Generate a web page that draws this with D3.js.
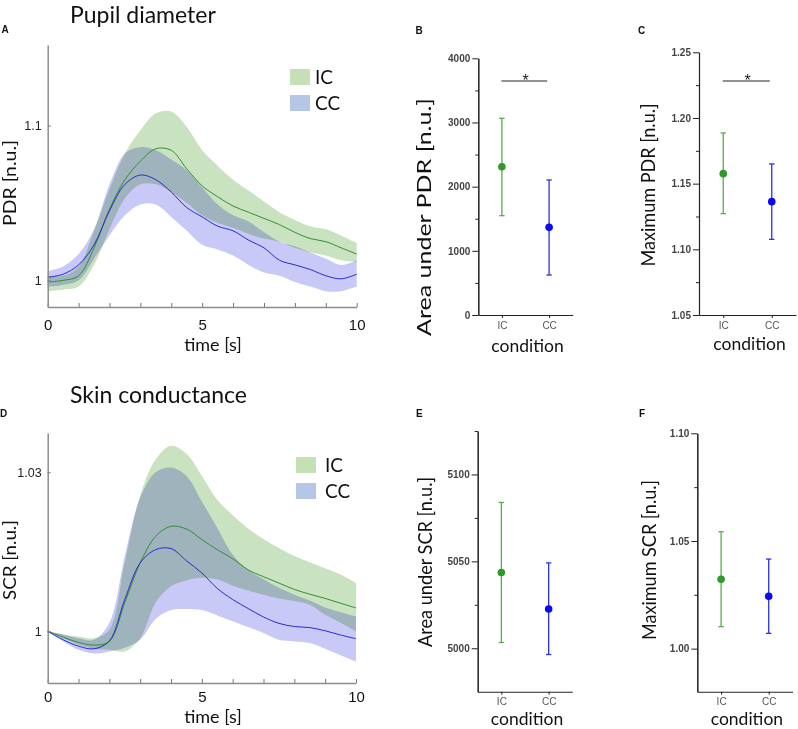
<!DOCTYPE html>
<html>
<head>
<meta charset="utf-8">
<script src="https://cdn.jsdelivr.net/npm/d3@7"></script>
<style>
  body { margin: 0; background: #fff; }
  svg { display: block; font-family: Lato, "Open Sans", sans-serif; }
  .band { mix-blend-mode: multiply; }
  .sum-axis text { font-family: "Liberation Sans", Arial, sans-serif; }
</style>
</head>
<body>
<div id="chart"></div>
<script>

// ---- time course data (normalised units) ----
const timeSec = [0, 0.5, 1, 1.5, 2, 2.5, 3, 3.5, 4, 4.5, 5, 5.5, 6, 6.5, 7, 7.5, 8, 8.5, 9, 9.5, 10];

// pupil dilation response
const pdrIcMean  = [0.999, 1.000, 1.003, 1.021, 1.046, 1.065, 1.077, 1.085, 1.084, 1.072, 1.061, 1.054, 1.048, 1.044, 1.040, 1.036, 1.031, 1.027, 1.025, 1.021, 1.017];
const pdrIcUpper = [1.003, 1.003, 1.009, 1.032, 1.059, 1.082, 1.097, 1.108, 1.109, 1.099, 1.084, 1.074, 1.065, 1.058, 1.051, 1.044, 1.039, 1.035, 1.033, 1.029, 1.024];
const pdrIcLower = [0.993, 0.994, 0.996, 1.010, 1.033, 1.053, 1.062, 1.062, 1.057, 1.050, 1.042, 1.037, 1.034, 1.030, 1.027, 1.025, 1.021, 1.018, 1.016, 1.013, 1.012];
const pdrCcMean  = [1.002, 1.004, 1.010, 1.023, 1.045, 1.062, 1.068, 1.065, 1.057, 1.047, 1.041, 1.035, 1.032, 1.026, 1.021, 1.013, 1.010, 1.007, 1.003, 1.001, 1.004];
const pdrCcUpper = [1.006, 1.009, 1.017, 1.033, 1.062, 1.082, 1.086, 1.084, 1.078, 1.071, 1.060, 1.049, 1.042, 1.038, 1.031, 1.025, 1.022, 1.018, 1.014, 1.010, 1.013];
const pdrCcLower = [0.996, 0.997, 1.000, 1.014, 1.029, 1.042, 1.049, 1.049, 1.041, 1.032, 1.023, 1.020, 1.016, 1.010, 1.005, 1.003, 0.999, 0.996, 0.993, 0.993, 0.996];

// skin conductance response
const scrIcMean  = [1.000, 0.9989, 0.9979, 0.9974, 0.9981, 1.0054, 1.0129, 1.0179, 1.0198, 1.0193, 1.0173, 1.0154, 1.0137, 1.0116, 1.0103, 1.0091, 1.0079, 1.0070, 1.0062, 1.0053, 1.0044];
const scrIcUpper = [1.000, 0.9994, 0.9990, 0.9987, 1.0003, 1.0130, 1.0256, 1.0324, 1.0350, 1.0335, 1.0293, 1.0248, 1.0219, 1.0194, 1.0174, 1.0157, 1.0142, 1.0130, 1.0119, 1.0107, 1.0091];
const scrIcLower = [1.000, 0.9987, 0.9975, 0.9967, 0.9965, 0.9962, 0.9987, 1.0054, 1.0085, 1.0096, 1.0101, 1.0098, 1.0086, 1.0077, 1.0069, 1.0062, 1.0057, 1.0050, 1.0031, 1.0016, 1.0000];
const scrCcMean  = [1.000, 0.9984, 0.9972, 0.9967, 0.9982, 1.0060, 1.0129, 1.0154, 1.0156, 1.0133, 1.0110, 1.0081, 1.0060, 1.0043, 1.0027, 1.0015, 1.0009, 1.0007, 1.0001, 0.9993, 0.9986];
const scrCcUpper = [1.000, 0.9994, 0.9987, 0.9984, 1.0016, 1.0142, 1.0252, 1.0300, 1.0309, 1.0293, 1.0245, 1.0195, 1.0145, 1.0116, 1.0098, 1.0082, 1.0069, 1.0058, 1.0045, 1.0036, 1.0028];
const scrCcLower = [1.000, 0.9981, 0.9965, 0.9958, 0.9962, 0.9969, 0.9984, 1.0023, 1.0040, 1.0042, 1.0040, 1.0030, 1.0019, 1.0008, 0.9997, 0.9984, 0.9981, 0.9978, 0.9967, 0.9955, 0.9943];

// ---- summary data (mean, lower, upper) ----
const conditions = ["IC", "CC"];
const pdrAreaMean = [2310, 1366];
const pdrAreaLow  = [1548, 623];
const pdrAreaHigh = [3065, 2104];

const pdrMaxMean = [1.1576, 1.1363];
const pdrMaxLow  = [1.1272, 1.1076];
const pdrMaxHigh = [1.1886, 1.1650];

const scrAreaMean = [5043.6, 5022.6];
const scrAreaLow  = [5003.3, 4996.4];
const scrAreaHigh = [5083.9, 5049.1];

const scrMaxMean = [1.0322, 1.0243];
const scrMaxLow  = [1.0102, 1.0071];
const scrMaxHigh = [1.0543, 1.0416];

const legendLabels = ["IC", "CC"];

// colours
const bandGreen = "#c9e3c1", bandBlue = "#c9c9f7";
const lineGreen = "#2f8f35", lineBlue = "#2a2ad0";
const legendGreen = "#c5e0b4", legendBlue = "#b4c7e7";
const dotGreen = "#2f9a2a", dotBlue = "#0b0bf2";
const barGreen = "#58ad4c", barBlue = "#3030ee";

const svg = d3.select("#chart").append("svg")
    .attr("width", 798)
    .attr("height", 729);

svg.append("rect").attr("width", 798).attr("height", 729).attr("fill", "#fff");

function panelLetter(txt, x, y) {
    svg.append("text")
        .attr("x", x).attr("y", y)
        .style("font-family", "'Liberation Sans', Arial, sans-serif")
        .style("font-weight", "bold")
        .style("font-size", "10px")
        .attr("fill", "#111")
        .text(txt);
}

/* time course panel (A, D) */
function drawTimePanel(p) {
    let x = d3.scaleLinear().domain([0, 10]).range([p.left, p.right]);
    let y = d3.scaleLinear().domain(p.yDomain).range([p.bottom, p.top]);
    let g = svg.append("g");

    let band = (lo, hi) => d3.area()
        .x((d, i) => x(timeSec[i]))
        .y0((d, i) => y(lo[i]))
        .y1((d, i) => y(hi[i]))
        .curve(d3.curveCatmullRom)(timeSec);

    let line = (vals) => d3.line()
        .x((d, i) => x(timeSec[i]))
        .y((d, i) => y(vals[i]))
        .curve(d3.curveCatmullRom)(timeSec);

    // shaded bands
    g.append("path").attr("class", "band").attr("d", band(p.icLow, p.icHigh)).attr("fill", bandGreen);
    g.append("path").attr("class", "band").attr("d", band(p.ccLow, p.ccHigh)).attr("fill", bandBlue);

    // mean lines
    g.append("path").attr("d", line(p.icMean)).attr("fill", "none").attr("stroke", lineGreen).attr("stroke-width", 1);
    g.append("path").attr("d", line(p.ccMean)).attr("fill", "none").attr("stroke", lineBlue).attr("stroke-width", 1);

    // axes
    let xAxis = g.append("g")
        .attr("transform", `translate(0,${p.bottom})`)
        .call(d3.axisBottom(x)
            .tickValues(d3.range(0, 11))
            .tickSize(-4)
            .tickSizeOuter(0)
            .tickPadding(p.xPad)
            .tickFormat(d => (d % 5 === 0 ? d : "")));
    xAxis.selectAll("text").style("font-size", p.xFont + "px").attr("fill", "#111");

    let yAxis = g.append("g")
        .attr("transform", `translate(${p.left},0)`)
        .call(d3.axisLeft(y)
            .tickValues(p.yTicks)
            .tickSize(-3)
            .tickSizeOuter(0)
            .tickPadding(6)
            .tickFormat(d3.format("~g")));
    yAxis.selectAll("text").style("font-size", "12.5px").attr("fill", "#222");

    g.selectAll(".domain").attr("stroke", "#8c8c8c").attr("stroke-width", 1.5);
    g.selectAll(".tick line").attr("stroke", "#777");

    // labels
    g.append("text")
        .attr("x", 213).attr("y", p.xLabelY)
        .attr("text-anchor", "middle")
        .style("font-size", "18px").attr("fill", "#111")
        .text("time [s]");

    g.append("text")
        .attr("transform", `translate(16,${p.yLabelY}) rotate(-90)`)
        .attr("text-anchor", "middle")
        .style("font-size", "17px").attr("fill", "#111")
        .attr("textLength", p.yLabelLen).attr("lengthAdjust", "spacingAndGlyphs")
        .text(p.yLabel);

    g.append("text")
        .attr("x", 70).attr("y", p.titleY)
        .style("font-size", "23px").attr("fill", "#111")
        .text(p.title);

    // legend
    let leg = g.selectAll(".leg").data(legendLabels).enter().append("g");
    leg.append("rect")
        .attr("x", p.legX).attr("y", (d, i) => p.legY + i * p.legStep)
        .attr("width", 20).attr("height", 16)
        .attr("fill", (d, i) => (i === 0 ? legendGreen : legendBlue));
    leg.append("text")
        .attr("x", p.legX + p.legGap).attr("y", (d, i) => p.legY + i * p.legStep + 15)
        .style("font-size", "19px").attr("fill", "#111")
        .text(d => d);
}

/* summary panel (B, C, E, F) */
function drawSummaryPanel(p) {
    let x = d3.scalePoint().domain(conditions).range([p.left, p.right]).padding(0.5);
    let y = d3.scaleLinear().domain(p.yDomain).range([p.bottom, p.top]);
    let g = svg.append("g").attr("class", "sum-axis");

    // minor ticks
    g.append("g")
        .attr("transform", `translate(${p.left},0)`)
        .call(d3.axisLeft(y).tickValues(p.minor).tickSize(3).tickSizeOuter(0).tickFormat(""));

    // major ticks
    let yAxis = g.append("g")
        .attr("transform", `translate(${p.left},0)`)
        .call(d3.axisLeft(y).tickValues(p.major).tickSize(6).tickSizeOuter(0)
            .tickPadding(2).tickFormat(d3.format(p.fmt)));
    yAxis.selectAll("text").style("font-size", "10px").style("font-weight", "bold").attr("fill", "#444");

    let xAxis = g.append("g")
        .attr("transform", `translate(0,${p.bottom})`)
        .call(d3.axisBottom(x).tickSize(3).tickSizeOuter(0).tickPadding(3.5));
    xAxis.selectAll("text").style("font-size", "10px").attr("fill", "#555");

    g.selectAll(".domain").attr("stroke", "#222").attr("stroke-width", 1.1);
    g.selectAll(".tick line").attr("stroke", "#222");

    // error bars
    let colsBar = [barGreen, barBlue], colsDot = [dotGreen, dotBlue];
    conditions.forEach((c, i) => {
        let cx = x(c);
        g.append("line")
            .attr("x1", cx).attr("x2", cx)
            .attr("y1", y(p.low[i])).attr("y2", y(p.high[i]))
            .attr("stroke", colsBar[i]).attr("stroke-width", 1.3);
        [p.low[i], p.high[i]].forEach(v => {
            g.append("line")
                .attr("x1", cx - 2.7).attr("x2", cx + 2.7)
                .attr("y1", y(v)).attr("y2", y(v))
                .attr("stroke", colsBar[i]).attr("stroke-width", 1.3);
        });
        g.append("circle")
            .attr("cx", cx).attr("cy", y(p.mean[i]))
            .attr("r", 3.8)
            .attr("fill", colsDot[i]);
    });

    // significance marker
    if (p.sig) {
        g.append("line")
            .attr("x1", x("IC") - 0.5).attr("x2", x("CC") - 2)
            .attr("y1", 81).attr("y2", 81)
            .attr("stroke", "#222").attr("stroke-width", 1);
        g.append("text")
            .attr("x", (x("IC") + x("CC")) / 2).attr("y", 85.5)
            .attr("text-anchor", "middle")
            .style("font-size", "16px").attr("fill", "#222")
            .text("*");
    }

    // labels
    g.append("text")
        .attr("x", (x("IC") + x("CC")) / 2 + 2).attr("y", p.condY)
        .attr("text-anchor", "middle")
        .style("font-family", "Lato, sans-serif")
        .style("font-size", "17.5px").attr("fill", "#111")
        .text("condition");

    g.append("text")
        .attr("transform", `translate(${p.yLabelX},${p.yLabelY}) rotate(-90)`)
        .attr("text-anchor", "middle")
        .style("font-family", "Lato, sans-serif")
        .style("font-size", "19px").attr("fill", "#111")
        .attr("textLength", p.yLabelLen).attr("lengthAdjust", "spacingAndGlyphs")
        .text(p.yLabel);
}

// ---- panel A ----
drawTimePanel({
    left: 47.7, right: 356.7, top: 45, bottom: 307,
    yDomain: [0.9828, 1.152], yTicks: [1, 1.1],
    icMean: pdrIcMean, icLow: pdrIcLower, icHigh: pdrIcUpper,
    ccMean: pdrCcMean, ccLow: pdrCcLower, ccHigh: pdrCcUpper,
    title: "Pupil diameter", titleY: 23,
    yLabel: "PDR [n.u.]", yLabelY: 183, yLabelLen: 86,
    xFont: 15, xPad: 12.4, xLabelY: 351,
    legX: 290, legY: 69, legStep: 26, legGap: 25
});
panelLetter("A", 1.5, 33);

// ---- panel D ----
drawTimePanel({
    left: 47.7, right: 356, top: 433, bottom: 683,
    yDomain: [0.99025, 1.0374], yTicks: [1, 1.03],
    icMean: scrIcMean, icLow: scrIcLower, icHigh: scrIcUpper,
    ccMean: scrCcMean, ccLow: scrCcLower, ccHigh: scrCcUpper,
    title: "Skin conductance", titleY: 402.5,
    yLabel: "SCR [n.u.]", yLabelY: 560, yLabelLen: 80,
    xFont: 15, xPad: 8.3, xLabelY: 723,
    legX: 296, legY: 457, legStep: 26, legGap: 29
});
panelLetter("D", 0, 417);

// ---- panel B ----
drawSummaryPanel({
    left: 478.3, right: 572.7, top: 58.3, bottom: 315,
    yDomain: [0, 4000], major: [0, 1000, 2000, 3000, 4000], minor: [500, 1500, 2500, 3500],
    fmt: "d",
    mean: pdrAreaMean, low: pdrAreaLow, high: pdrAreaHigh, sig: true,
    yLabel: "Area under PDR [n.u.]", yLabelX: 431, yLabelY: 217, yLabelLen: 238,
    condY: 352
});
panelLetter("B", 415.5, 34);

// ---- panel C ----
drawSummaryPanel({
    left: 699, right: 796, top: 52.3, bottom: 315,
    yDomain: [1.05, 1.25], major: [1.05, 1.10, 1.15, 1.20, 1.25], minor: [1.075, 1.125, 1.175, 1.225],
    fmt: ".2f",
    mean: pdrMaxMean, low: pdrMaxLow, high: pdrMaxHigh, sig: true,
    yLabel: "Maximum PDR [n.u.]", yLabelX: 655, yLabelY: 185, yLabelLen: 163,
    condY: 350
});
panelLetter("C", 638, 34);

// ---- panel E ----
drawSummaryPanel({
    left: 477.7, right: 572.3, top: 431, bottom: 691.7,
    yDomain: [4975, 5125], major: [5000, 5050, 5100], minor: [5025, 5075, 5125],
    fmt: "d",
    mean: scrAreaMean, low: scrAreaLow, high: scrAreaHigh, sig: false,
    yLabel: "Area under SCR [n.u.]", yLabelX: 432, yLabelY: 562, yLabelLen: 170,
    condY: 725
});
panelLetter("E", 416, 417);

// ---- panel F ----
drawSummaryPanel({
    left: 697.3, right: 792.5, top: 433.3, bottom: 691.7,
    yDomain: [0.98, 1.10], major: [1.00, 1.05, 1.10], minor: [1.025, 1.075],
    fmt: ".2f",
    mean: scrMaxMean, low: scrMaxLow, high: scrMaxHigh, sig: false,
    yLabel: "Maximum SCR [n.u.]", yLabelX: 656, yLabelY: 560, yLabelLen: 160,
    condY: 725
});
panelLetter("F", 639, 417);

</script>
</body>
</html>
